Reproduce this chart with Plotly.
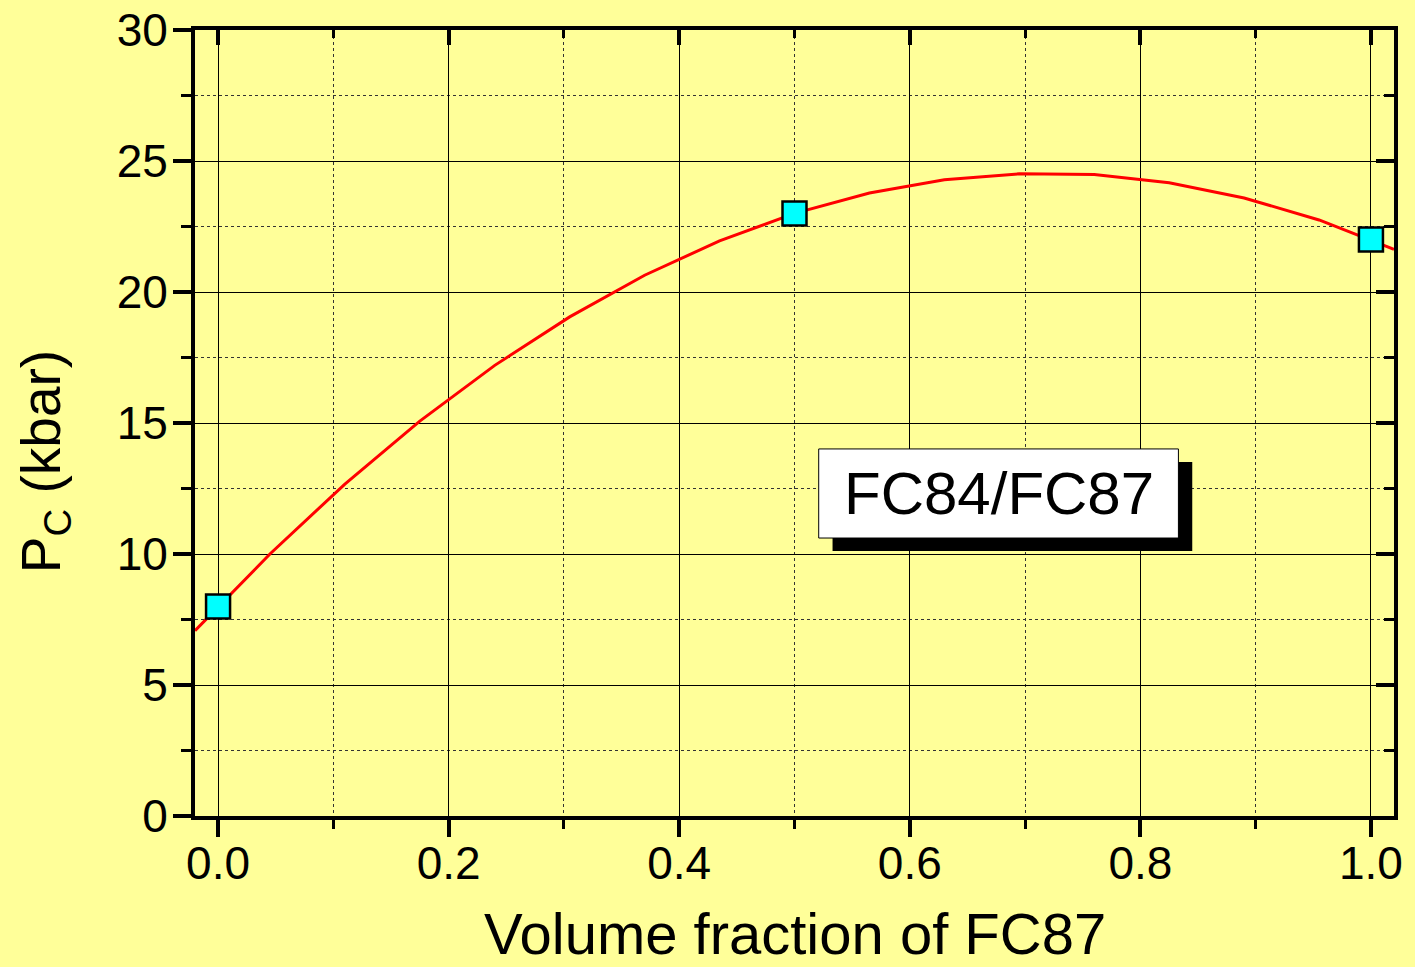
import plotly.graph_objects as go

# measured points
frac_pts = [0.0, 0.5, 1.0]
pc_pts = [8.0, 23.0, 22.0]

# fitted curve
frac_fit = [-0.02, 0.045, 0.11, 0.175, 0.24, 0.305, 0.37, 0.435, 0.5, 0.565,
            0.63, 0.695, 0.76, 0.825, 0.89, 0.955, 1.02]
pc_fit = [7.07, 10.0, 12.67, 15.07, 17.2, 19.05, 20.64, 21.95, 23.0, 23.78,
          24.28, 24.51, 24.48, 24.17, 23.59, 22.75, 21.63]

x_range = [-0.02, 1.02]
y_range = [0, 30]
label_text = "FC84/FC87"

FONT = "Liberation Sans, Arial, sans-serif"
BG = "#FFFF99"

fig = go.Figure()
fig.add_trace(go.Scatter(x=frac_fit, y=pc_fit, mode="lines",
                         line=dict(color="#FF0000", width=3), showlegend=False,
                         hoverinfo="skip"))
fig.add_trace(go.Scatter(x=frac_pts, y=pc_pts, mode="markers",
                         marker=dict(symbol="square", size=24, color="#00FFFF",
                                     line=dict(color="black", width=2.5)),
                         showlegend=False))
# invisible trace for mirror axes
fig.add_trace(go.Scatter(x=[frac_pts[0]], y=[pc_pts[0]], xaxis="x2", yaxis="y2",
                         mode="markers", marker=dict(opacity=0), showlegend=False,
                         hoverinfo="skip"))

common_x = dict(range=x_range, dtick=0.2, tick0=0, showline=True, linecolor="black",
                linewidth=4, zeroline=False, automargin=False)
common_y = dict(range=y_range, dtick=5, tick0=0, showline=True, linecolor="black",
                linewidth=4, zeroline=False, automargin=False)

fig.update_layout(
    width=1415, height=967,
    paper_bgcolor=BG, plot_bgcolor=BG,
    margin=dict(l=195, r=21, t=30, b=151),
    font=dict(family=FONT, color="black"),
    xaxis=dict(**common_x, ticks="outside", ticklen=17, tickwidth=4, tickcolor="black",
               tickformat=".1f", tickfont=dict(size=46, family=FONT),
               ticklabelstandoff=-13,
               showgrid=True, gridcolor="black", gridwidth=1,
               minor=dict(dtick=0.1, ticks="outside", ticklen=9, tickwidth=3,
                          tickcolor="black", showgrid=True, gridcolor="#333333",
                          griddash="dot", gridwidth=1)),
    yaxis=dict(**common_y, ticks="outside", ticklen=18, tickwidth=4, tickcolor="black",
               tickfont=dict(size=46, family=FONT), ticklabelstandoff=-4,
               showgrid=True, gridcolor="black", gridwidth=1,
               minor=dict(dtick=2.5, ticks="outside", ticklen=10, tickwidth=3,
                          tickcolor="black", showgrid=True, gridcolor="#333333",
                          griddash="dot", gridwidth=1)),
    xaxis2=dict(**common_x, overlaying="x", side="top", anchor="y2", ticks="inside",
                ticklen=15, tickwidth=4, tickcolor="black", showticklabels=False,
                showgrid=False,
                minor=dict(dtick=0.1, ticks="inside", ticklen=8, tickwidth=3,
                           tickcolor="black", showgrid=False)),
    yaxis2=dict(**common_y, overlaying="y", side="right", anchor="x2", ticks="inside",
                ticklen=18, tickwidth=4, tickcolor="black", showticklabels=False,
                showgrid=False,
                minor=dict(dtick=2.5, ticks="inside", ticklen=10, tickwidth=3,
                           tickcolor="black", showgrid=False)),
)

# label box with shadow
fig.add_shape(type="rect", xref="x", yref="y", x0=0.533, x1=0.845, y0=10.11, y1=13.51,
              fillcolor="black", line=dict(width=0), layer="above")
fig.add_shape(type="rect", xref="x", yref="y", x0=0.521, x1=0.833, y0=10.61, y1=14.01,
              fillcolor="white", line=dict(color="black", width=1), layer="above")
fig.add_annotation(x=0.677, y=12.31, xref="x", yref="y", text=label_text,
                   showarrow=False, font=dict(size=60, family=FONT, color="black"),
                   xanchor="center", yanchor="middle")

# axis titles
fig.add_annotation(x=0.5, y=0, xref="paper", yref="paper", yshift=-151,
                   text="Volume fraction of FC87", showarrow=False,
                   font=dict(size=58, family=FONT, color="black"),
                   xanchor="center", yanchor="bottom", borderpad=0)
fig.add_annotation(x=0, y=0.45, xref="paper", yref="paper", xshift=-150,
                   text="P<sub>C</sub> (kbar)", textangle=-90, showarrow=False,
                   font=dict(size=55, family=FONT, color="black"),
                   xanchor="center", yanchor="middle")

fig.write_html("out.html")
